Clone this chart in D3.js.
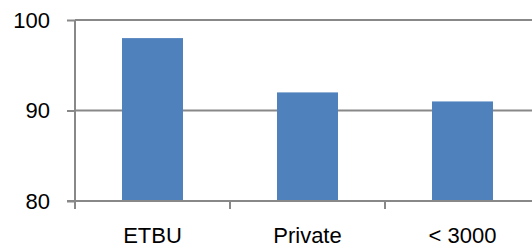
<!DOCTYPE html>
<html>
<head>
<meta charset="utf-8">
<script src="https://cdn.jsdelivr.net/npm/d3@7"></script>
<style>
html,body{margin:0;padding:0;background:#fff;}
svg{display:block;}
</style>
</head>
<body>
<svg id="chart" width="532" height="249"></svg>
<script>
const categories = ["ETBU", "Private", "< 3000"];
const values = [98, 92, 91];
const yTicks = [80, 90, 100];

(function () {
const svg = d3.select("#chart");
const mLeft = 75, mTop = 20, mBottom = 201, mRight = 540;
const font = "'Liberation Sans', Arial, sans-serif";

const xb = d3.scaleBand().domain(categories).range([mLeft, mRight]);
const y = d3.scaleLinear().domain([80, 100]).range([mBottom, mTop]);

// gridlines
svg.append("g").selectAll("line").data(yTicks.filter(d => d > 80)).join("line")
  .attr("x1", mLeft).attr("x2", mRight)
  .attr("y1", d => y(d)).attr("y2", d => y(d))
  .attr("stroke", "#888").attr("stroke-width", 2);

// bars
svg.append("g").selectAll("rect").data(values).join("rect")
  .attr("x", (d, i) => xb(categories[i]) + xb.bandwidth() / 2 - 30.5)
  .attr("width", 61)
  .attr("y", d => y(d))
  .attr("height", d => mBottom - y(d))
  .attr("fill", "#4f81bd");

// y axis
const yAxis = d3.axisLeft(y).tickValues(yTicks).tickSize(8).tickPadding(17).tickFormat(d3.format("d"));
const gy = svg.append("g").attr("transform", `translate(${mLeft},0)`).call(yAxis);
gy.select(".domain").remove();
gy.selectAll(".tick line").attr("stroke", "#888").attr("stroke-width", 2);
gy.selectAll(".tick text").attr("font-family", font).attr("font-size", 22).attr("fill", "#000");
svg.append("line").attr("x1", mLeft).attr("x2", mLeft).attr("y1", mTop).attr("y2", mBottom + 8)
  .attr("stroke", "#888").attr("stroke-width", 2);

// x axis
svg.append("line").attr("x1", mLeft - 8).attr("x2", mRight).attr("y1", mBottom).attr("y2", mBottom)
  .attr("stroke", "#888").attr("stroke-width", 2);
const bounds = categories.map(c => xb(c)).concat([mRight]);
svg.append("g").selectAll("line").data(bounds.slice(1)).join("line")
  .attr("x1", d => d).attr("x2", d => d).attr("y1", mBottom).attr("y2", mBottom + 8)
  .attr("stroke", "#888").attr("stroke-width", 2);
svg.append("g").selectAll("text").data(categories).join("text")
  .attr("x", d => xb(d) + xb.bandwidth() / 2)
  .attr("y", 243)
  .attr("text-anchor", "middle")
  .attr("font-family", font).attr("font-size", 22).attr("fill", "#000")
  .text(d => d);
})();
</script>
</body>
</html>
